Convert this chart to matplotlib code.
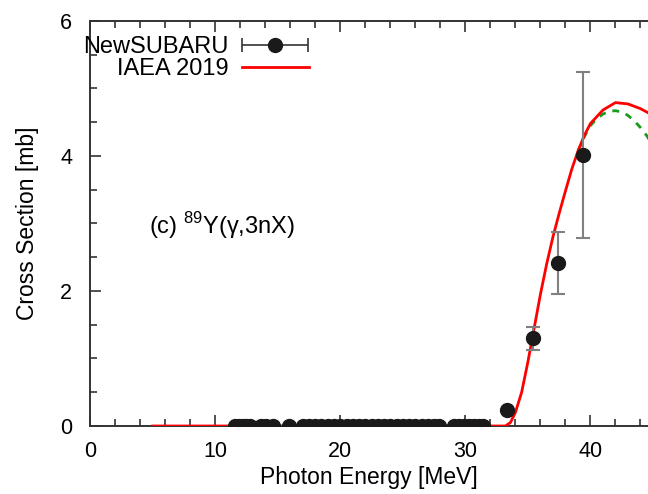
import matplotlib
matplotlib.use("Agg")
import matplotlib.pyplot as plt
from matplotlib.ticker import MultipleLocator
from matplotlib.legend_handler import HandlerErrorbar

plt.rcParams['font.family'] = ['Liberation Sans', 'DejaVu Sans']
plt.rcParams['mathtext.fontset'] = 'custom'
plt.rcParams['mathtext.rm'] = 'Liberation Sans'

# NewSUBARU data points (energy MeV, cross section mb, error mb)
exp_x = [11.6, 11.9, 12.2, 12.5, 12.8, 13.7, 14.1, 14.6, 15.9,
         17.0, 17.5, 18.0, 18.5, 19.0, 19.5, 20.0, 20.5, 21.0, 21.5, 22.0,
         22.5, 23.0, 23.5, 24.0, 24.5, 25.0, 25.5, 26.0, 26.5, 27.0, 27.5, 27.9,
         29.1, 29.5, 29.9, 30.3, 30.7, 31.1, 31.4,
         33.3, 35.4, 37.4, 39.4]
exp_y = [0.0] * 39 + [0.24, 1.30, 2.41, 4.02]
exp_err = [0.0] * 39 + [0.0, 0.17, 0.46, 1.23]

# IAEA 2019 evaluation
iaea_x = [5.0, 33.2, 33.6, 34.0, 34.5, 35.0, 35.5, 36.0, 36.5, 37.0, 37.5,
          38.0, 38.5, 39.0, 39.5, 40.0, 41.0, 42.0, 43.0, 44.0, 45.0]
iaea_y = [0.0, 0.0, 0.05, 0.2, 0.5, 0.95, 1.45, 1.95, 2.4, 2.8, 3.15,
          3.48, 3.8, 4.07, 4.3, 4.48, 4.68, 4.79, 4.77, 4.7, 4.6]

# green dashed curve
alt_x = [39.0, 39.5, 40.0, 40.5, 41.0, 41.5, 42.0, 42.5, 43.0, 43.5, 44.0, 44.5, 45.0]
alt_y = [4.07, 4.28, 4.45, 4.55, 4.62, 4.66, 4.67, 4.65, 4.6, 4.52, 4.42, 4.3, 4.15]

fig = plt.figure(figsize=(6.48, 4.94), dpi=100)
ax = fig.add_axes([0.139, 0.1377, 0.861, 0.82])

ax.plot(alt_x, alt_y, color='#1a9a1a', lw=2, linestyle=(0, (2.5, 2.5)), zorder=2)
h_iaea, = ax.plot(iaea_x, iaea_y, color='red', lw=2, zorder=3)
ax.errorbar(exp_x, exp_y, yerr=exp_err, fmt='o', color='#1a1a1a', ms=10,
            ecolor='#808080', elinewidth=1.5, capsize=5, capthick=1.5, zorder=4)

# legend key with a horizontal bar like the original (nan point, not drawn)
h_exp = ax.errorbar([float('nan')], [float('nan')], xerr=[1.0], fmt='o',
                    color='#1a1a1a', ms=10, ecolor='#333333', elinewidth=1.2,
                    capsize=5, capthick=1.2)

ax.set_xlim(0, 44.6)
ax.set_ylim(0, 6)
ax.xaxis.set_major_locator(MultipleLocator(10))
ax.xaxis.set_minor_locator(MultipleLocator(2))
ax.yaxis.set_major_locator(MultipleLocator(2))
ax.yaxis.set_minor_locator(MultipleLocator(0.5))
ax.tick_params(which='both', direction='in', top=True, right=False,
               labelsize=15.5, width=1.2, color='#333333')
ax.tick_params(which='major', length=8)
ax.tick_params(axis='x', which='major', pad=11)
ax.tick_params(axis='y', which='major', pad=13)
ax.tick_params(which='minor', length=5)
ax.spines['right'].set_visible(False)
for s in ['left', 'top', 'bottom']:
    ax.spines[s].set_linewidth(1.4)
    ax.spines[s].set_color('#333333')

ax.set_xlabel('Photon Energy [MeV]', fontsize=16.5, labelpad=3)
ax.set_ylabel('Cross Section [mb]', fontsize=16.5, labelpad=15)

ax.text(4.7, 2.97, r'(c) $^{\mathrm{89}}$Y(γ,3nX)', fontsize=17, va='center')

ax.legend([h_exp, h_iaea], ['NewSUBARU', 'IAEA 2019'], loc='upper left',
          bbox_to_anchor=(-0.012, 0.963), frameon=False, markerfirst=False,
          fontsize=17, handlelength=2.85, handletextpad=0.55,
          labelspacing=0.0, borderpad=0.0, borderaxespad=0.0,
          handler_map={h_exp: HandlerErrorbar(xerr_size=1.4)})

fig.savefig('out.png', dpi=100)
